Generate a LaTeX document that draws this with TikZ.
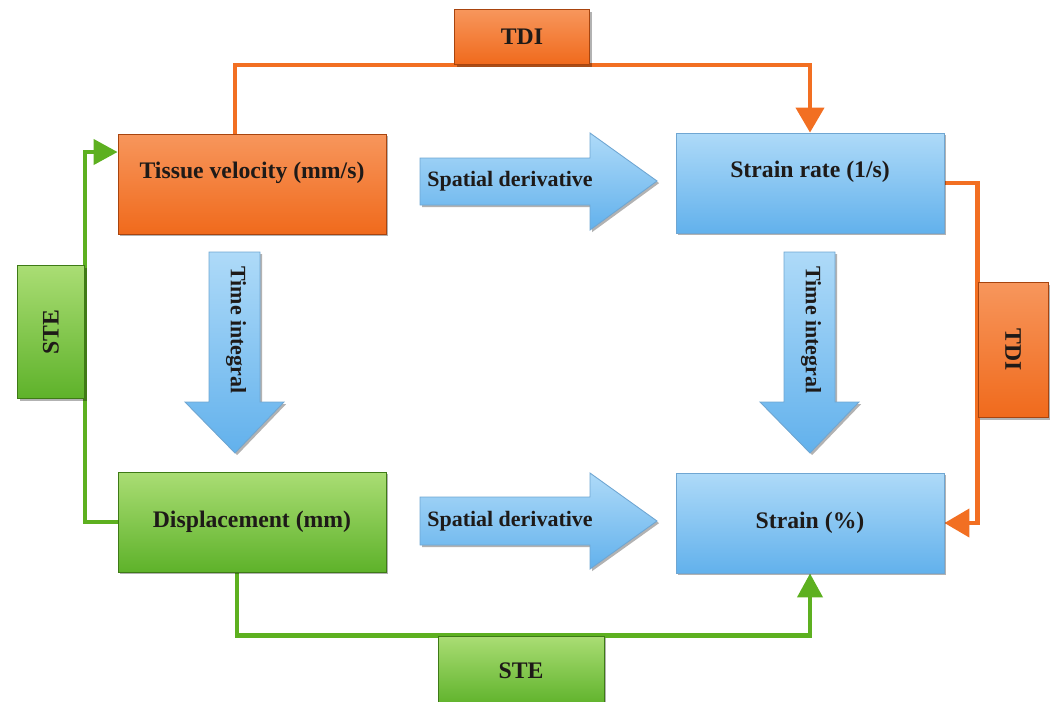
\documentclass[tikz,border=0pt]{standalone}
\usepackage{fontspec}
\setmainfont{Liberation Serif}
\usepackage{graphicx}
\usetikzlibrary{arrows.meta,shadows}

\pgfdeclarelayer{background layer}
\pgfsetlayers{background layer,main}

\definecolor{orangetop}{HTML}{F7965C}
\definecolor{orangebot}{HTML}{F06A1C}
\definecolor{orangeedge}{HTML}{A8440E}
\definecolor{orangeline}{HTML}{F26F22}
\definecolor{bluetop}{HTML}{AEDAF8}
\definecolor{bluebot}{HTML}{62B1EC}
\definecolor{blueedge}{HTML}{6FA6D2}
\definecolor{greentop}{HTML}{AADD74}
\definecolor{greenbot}{HTML}{5EB22A}
\definecolor{greenedge}{HTML}{3E7A16}
\definecolor{greenline}{HTML}{5DB020}
\definecolor{textcol}{HTML}{1E1A18}

\newcommand{\boxfont}{\fontsize{13.5}{16}\selectfont\bfseries}
\newcommand{\arrowfont}{\fontsize{12.5}{15}\selectfont\bfseries}

\tikzstyle{boxshadow}=[drop shadow={shadow xshift=1.2pt,shadow yshift=-1.2pt,opacity=0.3,fill=black}]
\tikzstyle{orangebox}=[rectangle,draw=orangeedge,line width=0.5pt,top color=orangetop,bottom color=orangebot,boxshadow,font=\boxfont,text=textcol,inner sep=0pt]
\tikzstyle{bluebox}=[rectangle,draw=blueedge,line width=0.5pt,top color=bluetop,bottom color=bluebot,boxshadow,font=\boxfont,text=textcol,inner sep=0pt]
\tikzstyle{greenbox}=[rectangle,draw=greenedge,line width=0.5pt,top color=greentop,bottom color=greenbot,boxshadow,font=\boxfont,text=textcol,inner sep=0pt]
\tikzstyle{bigbox}=[minimum width=5.36cm,minimum height=2cm]
\tikzstyle{uptext}=[text height=0.35cm,text depth=0.59cm]
\tikzstyle{blockarrow}=[draw=blueedge,line width=0.5pt,top color=bluetop,bottom color=bluebot,boxshadow]
\tikzstyle{arrowtext}=[font=\arrowfont,text=textcol,inner sep=0pt]
\tikzstyle{tdiline}=[draw=orangeline,line width=2.4pt,-{Triangle[width=0.56cm,length=0.5cm]}]
\tikzstyle{steline}=[draw=greenline,line width=2.4pt,-{Triangle[width=0.5cm,length=0.48cm]}]

\begin{document}
\begin{tikzpicture}[x=0.02cm,y=-0.02cm]
		\useasboundingbox (0,0) rectangle (1053,701);

		% quantities
		\node (tv) at (252,184) [orangebox,bigbox,uptext] {Tissue velocity (mm/s)};
		\node (sr) at (810,183) [bluebox,bigbox,uptext] {Strain rate (1/s)};
		\node (dp) at (252,522) [greenbox,bigbox] {Displacement (mm)};
		\node (st) at (810,523) [bluebox,bigbox] {Strain (\%)};

		% methods
		\node (tdi1) at (522,37) [orangebox,minimum width=2.7cm,minimum height=1.1cm] {TDI};
		\node (tdi2) at (1013,350) [orangebox,minimum width=1.4cm,minimum height=2.7cm] {\rotatebox{-90}{TDI}};
		\node (ste1) at (51,332) [greenbox,minimum width=1.34cm,minimum height=2.66cm] {\rotatebox{90}{STE}};
		\node (ste2) at (521,671) [greenbox,minimum width=3.32cm,minimum height=1.4cm] {STE};

		% block arrows
		\draw [blockarrow] (420,158)--(590,158)--(590,133)--(657,181)--(590,230)--(590,205)--(420,205)--cycle;
		\draw [blockarrow] (420,497)--(590,497)--(590,473)--(657,521)--(590,569)--(590,545)--(420,545)--cycle;
		\draw [blockarrow] (209,252)--(260,252)--(260,402)--(284,402)--(235,453)--(185,402)--(209,402)--cycle;
		\draw [blockarrow] (784,252)--(835,252)--(835,402)--(859,402)--(810,453)--(760,402)--(784,402)--cycle;
		\node (sd1) at (510,181) [arrowtext] {Spatial derivative};
		\node (sd2) at (510,521) [arrowtext] {Spatial derivative};
		\node (ti1) at (236,330) [arrowtext] {\rotatebox{-90}{Time integral}};
		\node (ti2) at (811,330) [arrowtext] {\rotatebox{-90}{Time integral}};

		\coordinate (tvin) at ([yshift=0.64cm]tv.west);

		\begin{pgfonlayer}{background layer}
			\draw [tdiline] ([xshift=-0.34cm]tv.north) |- (sr.north |- tdi1.south) -- (sr.north);
			\draw [tdiline] (sr.east) -| (tdi2.west |- st.east) -- (st.east);
			\draw [steline] (dp.west) -| (ste1.east |- tvin) -- (tvin);
			\draw [steline] ([xshift=-0.3cm]dp.south) |- (st.south |- ste2.north) -- (st.south);
		\end{pgfonlayer}
	\end{tikzpicture}
\end{document}
